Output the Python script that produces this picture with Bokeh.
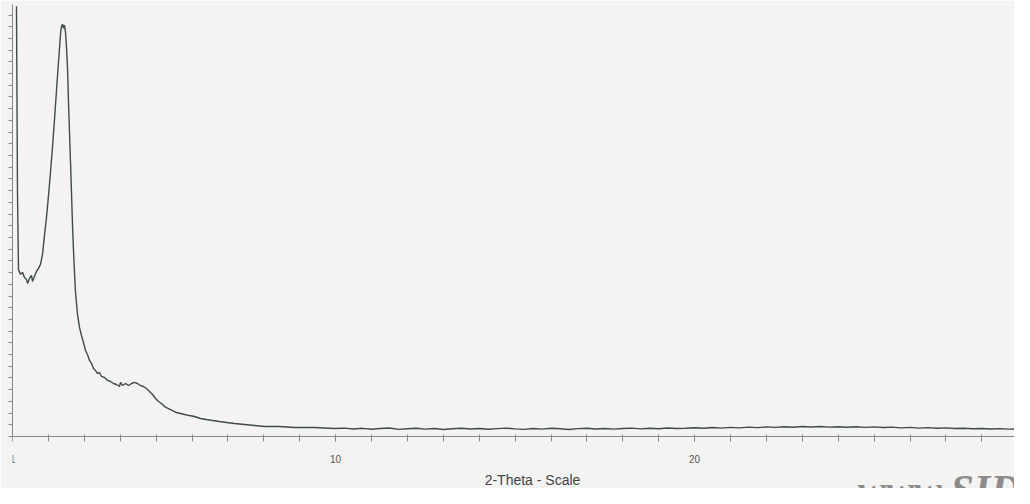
from bokeh.plotting import figure
from bokeh.models import FixedTicker, Label, Range1d
from bokeh.embed import file_html
from bokeh.resources import INLINE

# 2-Theta (deg) and intensity (Lin counts)
two_theta_peak = [1.111, 1.139, 1.167, 1.223, 1.279, 1.334, 1.390, 1.418, 1.474, 1.529,
                  1.557, 1.613, 1.669, 1.724, 1.780, 1.836, 1.891, 1.947, 2.003, 2.058,
                  2.114, 2.170, 2.226, 2.281, 2.337, 2.365, 2.393, 2.421, 2.448, 2.476,
                  2.504, 2.532, 2.560, 2.588, 2.616, 2.643, 2.671, 2.699, 2.727, 2.755,
                  2.811, 2.866, 2.922, 2.978, 3.033, 3.089, 3.145, 3.201, 3.256, 3.312,
                  3.368, 3.423, 3.479, 3.563, 3.646, 3.730, 3.813, 3.897, 3.981, 4.008,
                  4.064, 4.148, 4.231, 4.315, 4.398, 4.482, 4.565, 4.649, 4.733, 4.816,
                  4.900, 4.983, 5.067, 5.150, 5.234, 5.345, 5.457, 5.568, 5.680, 5.791,
                  5.930, 6.070, 6.237, 6.404, 6.571, 6.766, 6.961, 7.184, 7.462, 7.741,
                  8.019, 8.437, 8.855, 9.412, 9.969]
counts_peak = [3675, 2085, 1427, 1385, 1402, 1359, 1342, 1308, 1350, 1376,
               1325, 1368, 1410, 1436, 1470, 1556, 1718, 1872, 2060, 2256,
               2470, 2709, 2957, 3197, 3436, 3504, 3521, 3487, 3513, 3453,
               3325, 3154, 2855, 2598, 2342, 2085, 1812, 1590, 1402, 1231,
               1043, 932, 863, 803, 735, 701, 650, 624, 581, 564,
               538, 547, 513, 504, 479, 470, 453, 444, 427, 462,
               436, 453, 436, 453, 462, 453, 436, 427, 410, 385,
               359, 325, 299, 282, 256, 239, 222, 205, 197, 188,
               179, 171, 154, 145, 137, 128, 120, 111, 103, 94,
               85, 85, 77, 77, 68]

two_theta_tail = [10.25, 10.5, 10.75, 11.0, 11.25, 11.5, 11.75, 12.0, 12.25, 12.5,
                  12.75, 13.0, 13.25, 13.5, 13.75, 14.0, 14.25, 14.5, 14.75, 15.0,
                  15.25, 15.5, 15.75, 16.0, 16.25, 16.5, 16.75, 17.0, 17.25, 17.5,
                  17.75, 18.0, 18.25, 18.5, 18.75, 19.0, 19.25, 19.5, 19.75, 20.0,
                  20.25, 20.5, 20.75, 21.0, 21.25, 21.5, 21.75, 22.0, 22.25, 22.5,
                  22.75, 23.0, 23.25, 23.5, 23.75, 24.0, 24.25, 24.5, 24.75, 25.0,
                  25.25, 25.5, 25.75, 26.0, 26.25, 26.5, 26.75, 27.0, 27.25, 27.5,
                  27.75, 28.0, 28.25, 28.5, 28.75, 29.0]
counts_tail = [72, 64, 70, 62, 68, 73, 61, 66, 70, 63,
               68, 60, 66, 71, 64, 69, 62, 67, 72, 65,
               61, 68, 63, 70, 66, 60, 67, 71, 64, 69,
               63, 68, 72, 65, 70, 66, 73, 68, 71, 75,
               70, 77, 72, 78, 74, 80, 76, 82, 78, 84,
               79, 85, 81, 86, 80, 84, 79, 83, 78, 82,
               77, 80, 74, 78, 72, 76, 70, 74, 68, 71,
               66, 69, 64, 67, 63, 65]

x_labelled_ticks = [1, 10, 20]
x_all_ticks = list(range(1, 30))
y_minor_ticks = list(range(0, 3700, 100))

two_theta = two_theta_peak + two_theta_tail
counts = counts_peak + counts_tail

BG = "#f3f3f1"
AX = "#858a89"

# frame runs to the bottom of the canvas; the x axis sits at counts = 0
p = figure(width=1014, height=488, output_backend="svg", toolbar_location=None,
           x_range=Range1d(1.0, 28.91), y_range=Range1d(-444, 3690),
           min_border_left=12, min_border_right=0, min_border_top=4, min_border_bottom=0)
p.background_fill_color = BG
p.border_fill_color = BG
p.outline_line_color = None
p.grid.visible = False

p.line(two_theta, counts, line_color="#3e4b49", line_width=1.4)

xa = p.xaxis[0]
xa.fixed_location = 0
xa.ticker = FixedTicker(ticks=x_labelled_ticks, minor_ticks=x_all_ticks)
xa.axis_line_color = AX
xa.major_tick_line_color = AX
xa.minor_tick_line_color = AX
xa.major_tick_in = 2
xa.major_tick_out = 5
xa.minor_tick_in = 2
xa.minor_tick_out = 5
xa.major_label_standoff = 13
xa.major_label_text_font = "Liberation Sans"
xa.major_label_text_font_size = "10px"
xa.major_label_text_color = "#555555"

ya = p.yaxis[0]
ya.bounds = (0, 3690)
ya.ticker = FixedTicker(ticks=[], minor_ticks=y_minor_ticks)
ya.axis_line_color = AX
ya.minor_tick_line_color = AX
ya.minor_tick_in = 0
ya.minor_tick_out = 4

p.add_layout(Label(x=520, y=9, x_units="screen", y_units="screen", text="2-Theta - Scale",
                   text_align="center", text_baseline="middle",
                   text_font="Liberation Sans", text_font_size="14px", text_color="#444444"))

p.add_layout(Label(x=845, y=22, x_units="screen", y_units="screen", text="www.SID",
                   text_baseline="top",
                   text_font="Liberation Serif", text_font_style="bold italic",
                   text_font_size="42px", text_color="#8c8c8c"))

open("out.html", "w").write(file_html(p, INLINE))
